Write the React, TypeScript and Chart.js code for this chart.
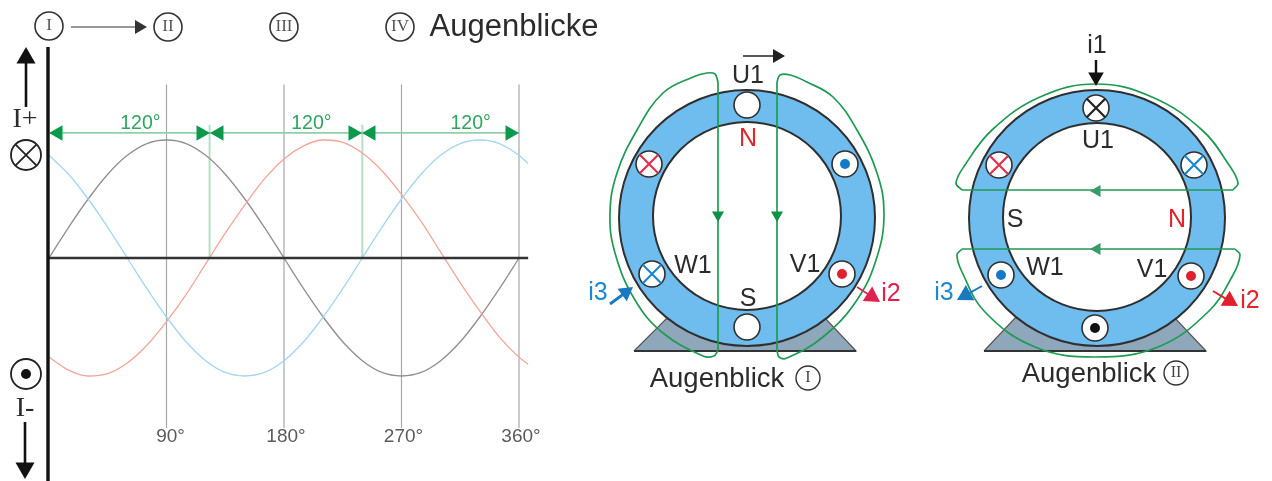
import React, { useEffect, useRef } from "react";
import { Chart, registerables } from "chart.js";

Chart.register(...registerables);

const W = 1272;
const H = 481;

// ---- waveform data (electrical degrees / normalised current) ----
const degrees = [0, 15, 30, 45, 60, 75, 90, 105, 120, 135, 150, 165, 180, 195, 210, 225, 240, 255, 270, 285, 300, 315, 330, 345, 360, 367];
const currentI1 = [0, 0.26, 0.5, 0.71, 0.87, 0.97, 1, 0.97, 0.87, 0.71, 0.5, 0.26, 0, -0.26, -0.5, -0.71, -0.87, -0.97, -1, -0.97, -0.87, -0.71, -0.5, -0.26, 0];
const currentI2 = [-0.84, -0.95, -1, -0.98, -0.89, -0.74, -0.54, -0.31, -0.05, 0.21, 0.45, 0.67, 0.84, 0.95, 1, 0.98, 0.89, 0.74, 0.54, 0.31, 0.05, -0.21, -0.45, -0.67, -0.84, -0.9];
const currentI3 = [0.87, 0.71, 0.5, 0.26, 0, -0.26, -0.5, -0.71, -0.87, -0.97, -1, -0.97, -0.87, -0.71, -0.5, -0.26, 0, 0.26, 0.5, 0.71, 0.87, 0.97, 1, 0.97, 0.87, 0.8];
const degreeTicks = [90, 180, 270, 360];
const degreeTickLabels = ["90°", "180°", "270°", "360°"];
const phaseMarks = [123, 240];
const spanLabels = ["120°", "120°", "120°"];
const spanLabelDegrees = [70, 201, 323];

// ---- diagram data (in the drawing's own 1272 x 481 plane) ----
type P = [number, number];
const instantMarks: P[] = [[49, 26], [168, 27], [284, 27], [400, 27]];
const instantLabels = ["I", "II", "III", "IV"];

const coilLeftBar: P[] = [[718, 350], [718, 82]];
const coilLeftArc: P[] = [[718, 82], [715, 74], [707, 73], [693, 77], [663, 93], [637, 130], [617, 173], [610, 213], [615, 253], [635, 300], [663, 333], [703, 356], [714, 356], [718, 350]];
const coilRightBar: P[] = [[777, 350], [777, 82]];
const coilRightArc: P[] = [[777, 82], [780, 75], [790, 75], [807, 82], [833, 97], [857, 130], [877, 173], [884, 213], [877, 257], [857, 300], [823, 337], [787, 358], [779, 357], [777, 350]];
const coilUpperBar: P[] = [[962, 190], [1233, 190]];
const coilUpperArc: P[] = [[962, 190], [956, 183], [965, 165], [992, 130], [1040, 97], [1096, 84], [1152, 97], [1202, 130], [1229, 165], [1238, 183], [1233, 190]];
const coilLowerBar: P[] = [[962, 249], [1235, 249]];
const coilLowerArc: P[] = [[962, 249], [957, 255], [962, 272], [985, 312], [1035, 347], [1095, 357], [1158, 347], [1208, 312], [1233, 275], [1240, 255], [1235, 249]];

const baseA: P[] = [[634, 351], [666, 319], [826, 319], [856, 351], [634, 351]];
const baseB: P[] = [[984, 351], [1015, 318], [1175, 318], [1206, 351], [984, 351]];
const statorOuter: P[] = [[747, 218], [1097, 218]];
const statorInner: P[] = [[747, 216], [1097, 217]];

const emptySlots: P[] = [[747, 105], [747, 327]];
const blackCrossSlots: P[] = [[1096, 108]];
const redCrossSlots: P[] = [[649, 164], [999, 165]];
const blueCrossSlots: P[] = [[652, 274], [1194, 165]];
const blueDotSlots: P[] = [[845, 164], [1001, 275]];
const redDotSlots: P[] = [[842, 274], [1191, 276]];
const blackDotSlots: P[] = [[1095, 328]];

type Lab = [string, number, number, string, string];
const SANS = '"Liberation Sans"';
const SERIF = '"Liberation Serif"';
const BLACK = "#2b2b2b";
const RED = "#e3242b";
const CRIMSON = "#e2204f";
const BLUE = "#1c88d0";
const labels: Lab[] = [
  ["Augenblicke", 514, 27, `31px ${SANS}`, BLACK],
  ["I+", 25, 120, `28px ${SERIF}`, BLACK],
  ["I-", 25, 409, `28px ${SERIF}`, BLACK],
  ["U1", 748, 76, `25px ${SANS}`, BLACK],
  ["N", 748, 139, `25px ${SANS}`, RED],
  ["S", 748, 299, `25px ${SANS}`, BLACK],
  ["W1", 693, 266, `25px ${SANS}`, BLACK],
  ["V1", 805, 265, `25px ${SANS}`, BLACK],
  ["i3", 598, 293, `25px ${SANS}`, BLUE],
  ["i2", 891, 294, `25px ${SANS}`, CRIMSON],
  ["Augenblick", 717, 379, `27.5px ${SANS}`, BLACK],
  ["i1", 1097, 46, `25px ${SANS}`, BLACK],
  ["U1", 1098, 141, `25px ${SANS}`, BLACK],
  ["S", 1015, 220, `25px ${SANS}`, BLACK],
  ["N", 1177, 220, `25px ${SANS}`, RED],
  ["W1", 1045, 268, `25px ${SANS}`, BLACK],
  ["V1", 1152, 270, `25px ${SANS}`, BLACK],
  ["i3", 944, 293, `25px ${SANS}`, BLUE],
  ["i2", 1250, 301, `25px ${SANS}`, RED],
  ["Augenblick", 1089, 374, `27.5px ${SANS}`, BLACK],
  ["I", 808, 378, `16px ${SERIF}`, "#444"],
  ["II", 1176, 373, `16px ${SERIF}`, "#444"],
];

const toPts = (list: P[]) => list.map(([x, y]) => ({ x, y }));

function arrow(from: P, tip: P, color: string, width: number, head: number) {
  const dx = tip[0] - from[0];
  const dy = tip[1] - from[1];
  const len = Math.hypot(dx, dy);
  const c: P = [tip[0] - (dx / len) * head, tip[1] - (dy / len) * head];
  return {
    data: toPts([from, c]),
    showLine: true,
    borderColor: color,
    backgroundColor: color,
    borderWidth: width,
    pointRadius: [0, head],
    pointStyle: "triangle",
    pointRotation: (Math.atan2(dy, dx) * 180) / Math.PI + 90,
    pointBorderWidth: 0,
    xAxisID: "px",
    yAxisID: "py",
  };
}

const plane = { xAxisID: "px", yAxisID: "py" };
const dots = (list: P[], radius: number, fill: string, border: string, bw: number, style = "circle") => ({
  ...plane,
  data: toPts(list),
  showLine: false,
  pointStyle: style,
  pointRadius: radius,
  pointBackgroundColor: fill,
  pointBorderColor: border,
  pointBorderWidth: bw,
});
const path = (list: P[], color: string, width: number, tension = 0, fill: any = false, bg = "transparent") => ({
  ...plane,
  data: toPts(list),
  showLine: true,
  borderColor: color,
  backgroundColor: bg,
  borderWidth: width,
  tension,
  fill,
  pointRadius: 0,
});
const wave = (ys: number[], color: string) => ({
  xAxisID: "deg",
  yAxisID: "amp",
  data: ys.map((y, i) => ({ x: degrees[i], y })),
  showLine: true,
  borderColor: color,
  borderWidth: 1.3,
  cubicInterpolationMode: "monotone",
  pointRadius: 0,
});
const elec = (pts: P[], color: string, width: number) => ({
  xAxisID: "deg",
  yAxisID: "amp",
  data: toPts(pts),
  showLine: true,
  borderColor: color,
  borderWidth: width,
  pointRadius: 0,
});

const GREEN = "#1f9a52";
const GRID = "#a8a8a8";

export default function App() {
  const ref = useRef<HTMLCanvasElement>(null);
  useEffect(() => {
    const pxPerDeg = 470 / 360;
    const zeroX = 49;
    const zeroY = 258;
    const amp = 118;
    const list: any[] = [
      // waveform panel
      ...degreeTicks.map((d) => elec([[d, 1.47], [d, -1.44]], GRID, 1.2)),
      ...phaseMarks.map((d) => elec([[d, 1.13], [d, 0]], "#b5dfc6", 2)),
      elec([[0, 1.06], [360, 1.06]], "#8fd0a8", 1.6),
      wave(currentI1, "#8f8f8f"),
      wave(currentI2, "#f2a598"),
      wave(currentI3, "#a3d6f2"),
      elec([[0, 0], [367, 0]], "#333333", 2.4),
      path([[48, 47], [48, 481]], "#111111", 3.4),
      ...[
        [[70, 133], [49, 133]],
        [[190, 133], [210, 133]],
        [[230, 133], [210, 133]],
        [[340, 133], [362, 133]],
        [[380, 133], [362, 133]],
        [[500, 133], [519, 133]],
      ].map(([a, b]) => arrow(a as P, b as P, "#0b9a4b", 0, 9)),
      arrow([26, 107], [26, 47], "#111111", 2.6, 11),
      arrow([25, 422], [25, 479], "#111111", 2.6, 11),
      arrow([71, 27], [147, 27], "#333333", 1, 8),
      dots(instantMarks, 14, "#ffffff", "#333333", 1.6),
      dots([[26, 155], [26, 374]], 15, "#ffffff", "#222222", 1.8),
      dots([[26, 155]], 15, "transparent", "#222222", 1.8, "crossRot"),
      dots([[26, 374]], 5, "#111111", "#111111", 0),

      // motors
      path(baseA, "#555555", 1.2, 0, "shape", "#8fa7bb"),
      path(baseB, "#555555", 1.2, 0, "shape", "#8fa7bb"),
      path([[634, 351], [856, 351]], "#333333", 2),
      path([[984, 351], [1206, 351]], "#333333", 2),
      dots(statorOuter, 128, "#6fbdee", "#2f2f2f", 2),
      dots(statorInner, 94, "#ffffff", "#2f2f2f", 2),
      dots(emptySlots, 13, "#ffffff", "#2f2f2f", 1.6),
      dots([...blackCrossSlots, ...redCrossSlots, ...blueCrossSlots, ...blueDotSlots, ...redDotSlots, ...blackDotSlots], 13, "#ffffff", "#2f2f2f", 1.6),
      dots(blackCrossSlots, 13, "transparent", "#222222", 2.2, "crossRot"),
      dots(redCrossSlots, 13, "transparent", "#e2304a", 2.2, "crossRot"),
      dots(blueCrossSlots, 13, "transparent", "#1c88d0", 2.2, "crossRot"),
      dots(blueDotSlots, 5, "#1278c8", "#1278c8", 0),
      dots(redDotSlots, 5, "#e0202c", "#e0202c", 0),
      dots(blackDotSlots, 5, "#111111", "#111111", 0),
      path(coilLeftBar, GREEN, 1.7),
      path(coilRightBar, GREEN, 1.7),
      path(coilUpperBar, GREEN, 1.7),
      path(coilLowerBar, GREEN, 1.7),
      path(coilLeftArc, GREEN, 1.7, 0.4),
      path(coilRightArc, GREEN, 1.7, 0.4),
      path(coilUpperArc, GREEN, 1.7, 0.4),
      path(coilLowerArc, GREEN, 1.7, 0.4),
      arrow([718, 205], [718, 222], "#0f9148", 0, 7),
      arrow([777, 205], [777, 222], "#0f9148", 0, 7),
      arrow([1110, 191], [1090, 191], "#3a9a68", 0, 7),
      arrow([1110, 249], [1090, 249], "#3a9a68", 0, 7),
      arrow([743, 56], [785, 56], "#222222", 1.6, 8),
      arrow([610, 304], [633, 287], "#1878c0", 3, 9),
      arrow([857, 287], [880, 302], CRIMSON, 1.6, 10),
      arrow([1096, 60], [1096, 86], "#111111", 2.4, 9),
      arrow([982, 286], [957, 300], "#1878c0", 2, 10),
      arrow([1213, 291], [1238, 306], "#e0202c", 2, 10),
      dots([[808, 378], [1176, 373]], 12, "#ffffff", "#333333", 1.4),
    ];
    list.forEach((d, i) => (d.order = list.length - i));

    const textPlugin = {
      id: "texts",
      afterDatasetsDraw(chart: any) {
        const { ctx, scales } = chart;
        ctx.save();
        ctx.textAlign = "center";
        ctx.textBaseline = "middle";
        labels.forEach(([t, x, y, font, color]) => {
          ctx.font = font;
          ctx.fillStyle = color;
          ctx.fillText(t, scales.px.getPixelForValue(x), scales.py.getPixelForValue(y));
        });
        ctx.font = `17px ${SERIF}`;
        ctx.fillStyle = "#555";
        instantLabels.forEach((t, i) => {
          const [x, y] = instantMarks[i];
          ctx.fillText(t, scales.px.getPixelForValue(x), scales.py.getPixelForValue(y), 20);
        });
        ctx.font = `19px ${SANS}`;
        ctx.fillStyle = "#5a5a5a";
        degreeTicks.forEach((d, i) => {
          ctx.fillText(degreeTickLabels[i], scales.deg.getPixelForValue(d) + (i === 0 ? 4 : 2), scales.py.getPixelForValue(437));
        });
        ctx.font = `19.5px ${SANS}`;
        ctx.fillStyle = "#2fa560";
        spanLabels.forEach((t, i) => {
          ctx.fillText(t, scales.deg.getPixelForValue(spanLabelDegrees[i]), scales.py.getPixelForValue(124));
        });
        ctx.restore();
      },
    };

    const hidden = { type: "linear", display: false };
    const chart = new Chart(ref.current as HTMLCanvasElement, {
      type: "scatter",
      data: { datasets: list },
      plugins: [textPlugin],
      options: {
        animation: false,
        responsive: false,
        devicePixelRatio: 1,
        layout: { padding: 0, autoPadding: false },
        plugins: { legend: { display: false }, tooltip: { enabled: false } },
        scales: {
          deg: { ...hidden, axis: "x", min: -zeroX / pxPerDeg, max: (W - zeroX) / pxPerDeg },
          amp: { ...hidden, axis: "y", min: (zeroY - H) / amp, max: zeroY / amp },
          px: { ...hidden, axis: "x", min: 0, max: W },
          py: { ...hidden, axis: "y", min: 0, max: H, reverse: true },
        },
      },
    } as any);
    return () => chart.destroy();
  }, []);
  return (
    <div style={{ position: "absolute", left: 0, top: 0, width: W, height: H, background: "#ffffff" }}>
      <canvas ref={ref} width={W} height={H} style={{ display: "block", filter: "blur(0.7px)" }} />
    </div>
  );
}
